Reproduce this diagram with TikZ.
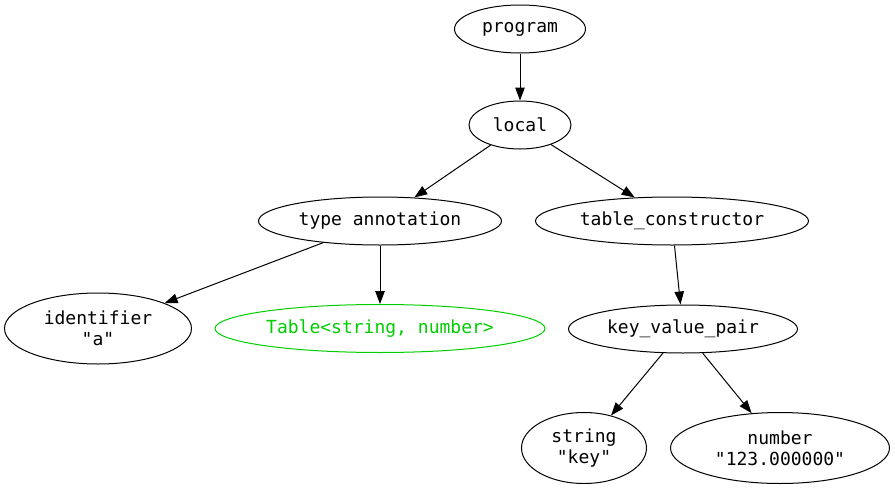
\documentclass[tikz,border=0pt]{standalone}
\usepackage{fontspec}
\setmonofont{DejaVu Sans Mono}
\usepackage{xcolor}
\usepackage{tikz}
\usetikzlibrary{shapes.geometric,arrows.meta,positioning}
\definecolor{typegreen}{RGB}{0,205,0}

\begin{document}
\begin{tikzpicture}[x=1pt, y=-1pt,
    astnode/.style={ellipse, draw=black, line width=1pt, inner sep=0pt, minimum height=48pt, align=center, font=\ttfamily\fontsize{18}{21}\selectfont},
    twoline/.style={astnode, minimum height=71pt},
    typenode/.style={astnode, draw=typegreen, text=typegreen},
    arrow/.style={-{Triangle[length=13pt, width=9.5pt]}, line width=1pt, black}]
    \useasboundingbox (0,0) rectangle (895,490);

    \node[astnode, minimum width=131pt] (program) at (520,29) {program};
    \node[astnode, minimum width=102pt, below=47pt of program] (local) {local};
    \node[astnode, minimum width=243pt, below=47pt of local, xshift=-140pt] (annot) {type annotation};
    \node[astnode, minimum width=273pt, below=47pt of local, xshift=152pt] (tablecons) {table\_constructor};
    \node[twoline, minimum width=187pt, below=47pt of annot, xshift=-282pt] (ident) {identifier\\"a"};
    \node[typenode, minimum width=330pt, below=58.5pt of annot] (tabletype) {Table<string, number>};
    \node[astnode, minimum width=229pt, below=59pt of tablecons, xshift=11pt] (kvpair) {key\_value\_pair};
    \node[twoline, minimum width=125pt, below=58.5pt of kvpair, xshift=-99pt] (keystr) {string\\"key"};
    \node[twoline, minimum width=219pt, below=58.5pt of kvpair, xshift=97pt] (valnum) {number\\"123.000000"};

    \draw[arrow] (program) -- (local);
    \draw[arrow] (local) -- (annot);
    \draw[arrow] (local) -- (tablecons);
    \draw[arrow] (annot) -- (ident);
    \draw[arrow] (annot) -- (tabletype);
    \draw[arrow] (tablecons) -- (kvpair);
    \draw[arrow] (kvpair) -- (keystr);
    \draw[arrow] (kvpair) -- (valnum);
\end{tikzpicture}
\end{document}
